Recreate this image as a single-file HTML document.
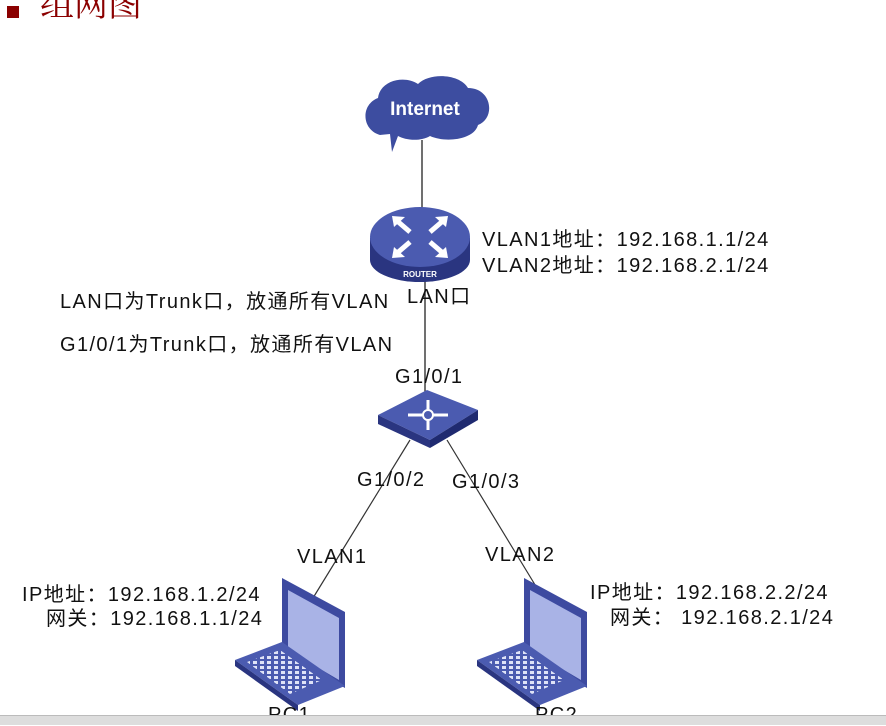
<!DOCTYPE html><html><head><meta charset="utf-8"><style>
body{margin:0;width:886px;height:724px;overflow:hidden;background:#fff;position:relative;font-family:"Liberation Sans","Noto Sans CJK SC",sans-serif}
.t{position:absolute;font-size:20px;letter-spacing:1.4px;color:#111;white-space:nowrap;line-height:22px}
</style></head><body>
<div style="position:absolute;left:7px;top:6px;width:12px;height:12px;background:#8b0000"></div>
<div style="position:absolute;left:40px;top:-14px;font-size:34px;color:#8b0000;font-family:'Liberation Serif','Noto Serif CJK SC',serif;line-height:40px">组网图</div>
<svg width="886" height="724" style="position:absolute;left:0;top:0">
<defs>
<pattern id="keys" width="7" height="5" patternUnits="userSpaceOnUse"><rect x="1" y="1" width="4" height="3" fill="#dfe3f7"/></pattern>
</defs>
<line x1="422" y1="140" x2="422" y2="210" stroke="#222" stroke-width="1.3"/>
<line x1="425" y1="280" x2="425" y2="400" stroke="#222" stroke-width="1.3"/>
<line x1="410" y1="440" x2="313" y2="598" stroke="#333" stroke-width="1.2"/>
<line x1="447" y1="440" x2="540" y2="593" stroke="#333" stroke-width="1.2"/>
<!-- cloud -->
<path d="M380,135 C362,130 360,105 378,98 C380,80 405,75 418,84 C430,72 460,74 468,88 C492,88 496,118 478,125 C474,140 445,143 430,136 C420,142 405,140 398,136 L392,152 L390,134 Z" fill="#3d4da0"/>
<text x="425" y="115" fill="#fff" font-size="19" font-weight="bold" text-anchor="middle" font-family="Liberation Sans,sans-serif">Internet</text>
<!-- router -->
<path d="M370,238 L370,260 A50,22 0 0 0 470,260 L470,238 Z" fill="#2a3580"/>
<ellipse cx="420" cy="237" rx="50" ry="30" fill="#4b5bb0"/>
<text x="420" y="277" fill="#fff" font-size="8" font-weight="bold" text-anchor="middle">ROUTER</text>
<g stroke="#fff" stroke-width="5" fill="none"><path d="M396,220 l14,12 M444,220 l-14,12 M396,254 l14,-12 M444,254 l-14,-12"/></g>
<g fill="#fff"><polygon points="392,216 405,217 394,227"/><polygon points="448,216 435,217 446,227"/><polygon points="392,258 405,257 394,247"/><polygon points="448,258 435,257 446,247"/></g>
<!-- switch -->
<polygon points="378,415 427,390 478,410 430,440" fill="#4b5bb0"/>
<polygon points="378,415 430,440 430,448 378,424" fill="#2a3580"/>
<polygon points="430,440 478,410 478,420 430,448" fill="#1f2a70"/>
<g stroke="#fff" stroke-width="3"><line x1="408" y1="415" x2="448" y2="415"/><line x1="428" y1="400" x2="428" y2="430"/></g>
<circle cx="428" cy="415" r="5" fill="#4b5bb0" stroke="#fff" stroke-width="2"/>
<!-- laptops -->
<g id="lp">
<polygon points="282,578 345,612 345,688 282,652" fill="#3d4aa0"/>
<polygon points="288,590 339,618 339,680 288,650" fill="#a9b3e6"/>
<polygon points="235,660 282,642 345,686 298,705" fill="#4b5bb0"/>
<polygon points="235,660 298,705 298,711 235,666" fill="#2a3580"/>
<polygon points="247,662 280,650 322,680 290,694" fill="url(#keys)"/>
</g>
<use href="#lp" x="242" y="0"/>
</svg>
<div class="t" style="left:482px;top:229px">VLAN1地址：192.168.1.1/24</div>
<div class="t" style="left:482px;top:255px">VLAN2地址：192.168.2.1/24</div>
<div class="t" style="left:60px;top:291px">LAN口为Trunk口，放通所有VLAN</div>
<div class="t" style="left:407px;top:286px">LAN口</div>
<div class="t" style="left:60px;top:334px">G1/0/1为Trunk口，放通所有VLAN</div>
<div class="t" style="left:395px;top:366px">G1/0/1</div>
<div class="t" style="left:357px;top:469px">G1/0/2</div>
<div class="t" style="left:452px;top:471px">G1/0/3</div>
<div class="t" style="left:297px;top:546px">VLAN1</div>
<div class="t" style="left:485px;top:544px">VLAN2</div>
<div class="t" style="left:22px;top:584px">IP地址：192.168.1.2/24</div>
<div class="t" style="left:46px;top:608px">网关：192.168.1.1/24</div>
<div class="t" style="left:590px;top:582px">IP地址：192.168.2.2/24</div>
<div class="t" style="left:610px;top:607px">网关： 192.168.2.1/24</div>
<div class="t" style="left:268px;top:704px">PC1</div>
<div class="t" style="left:535px;top:704px">PC2</div>
<div style="position:absolute;left:0;top:715px;width:886px;height:9px;background:#ddd;border-top:1px solid #bbb"></div>
</body></html>
